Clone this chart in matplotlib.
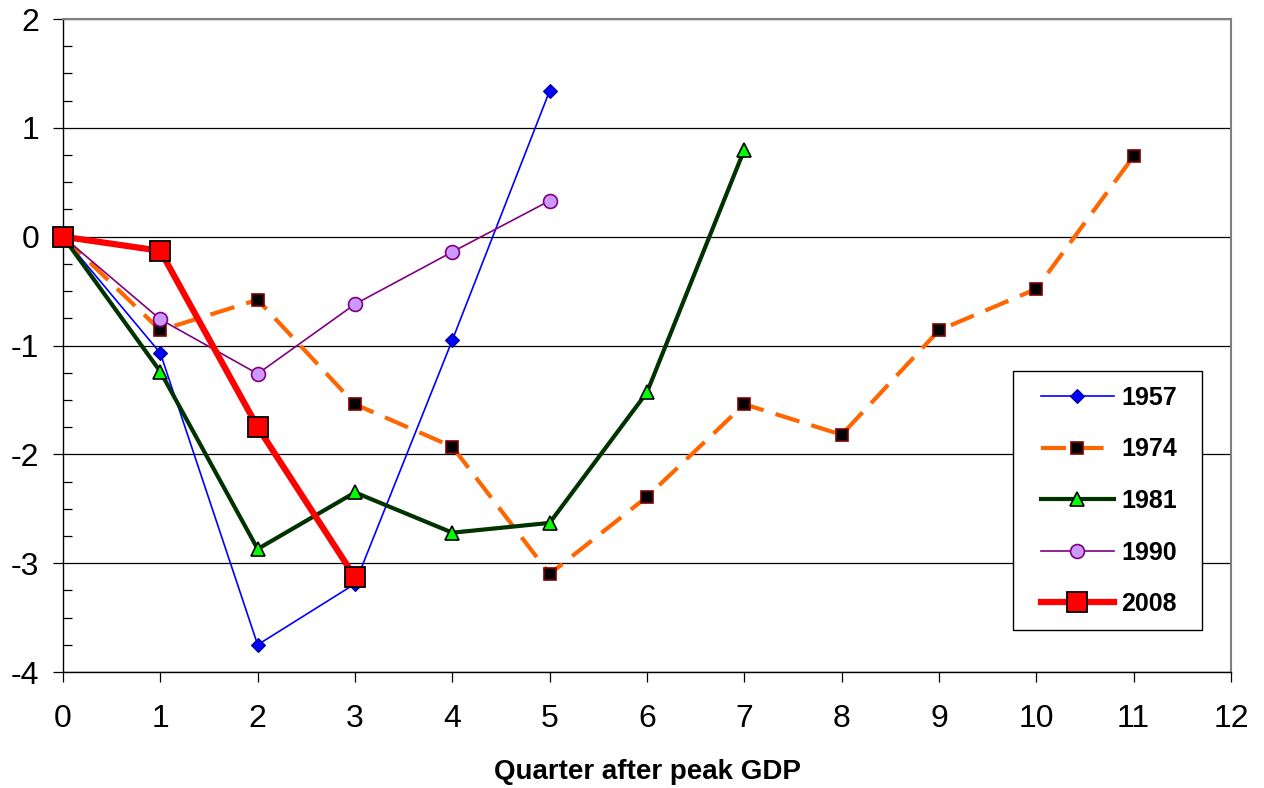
import numpy as np
import matplotlib.pyplot as plt
from matplotlib.patches import Rectangle
from matplotlib.ticker import MultipleLocator

plt.rcParams['font.family'] = ['Liberation Sans', 'DejaVu Sans']
plt.rcParams['axes.unicode_minus'] = False

# GDP change relative to the pre-recession peak, by quarter
q1957 = [0, 1, 2, 3, 4, 5]
v1957 = [0, -1.07, -3.75, -3.19, -0.95, 1.34]

q1974 = [0, 1, 2, 3, 4, 5, 6, 7, 8, 9, 10, 11]
v1974 = [0, -0.86, -0.58, -1.54, -1.93, -3.10, -2.39, -1.54, -1.82, -0.86, -0.48, 0.74]

q1981 = [0, 1, 2, 3, 4, 5, 6, 7]
v1981 = [0, -1.24, -2.87, -2.35, -2.72, -2.63, -1.43, 0.80]

q1990 = [0, 1, 2, 3, 4, 5]
v1990 = [0, -0.76, -1.26, -0.62, -0.14, 0.33]

q2008 = [0, 1, 2, 3]
v2008 = [0, -0.13, -1.75, -3.13]

W, H = 1264, 788
fig = plt.figure(figsize=(W / 100, H / 100), dpi=100)
ax = fig.add_axes([63 / W, 1 - 672 / H, (1231 - 63) / W, (672 - 19) / H])

ax.plot(q1957, v1957, color='#0000FF', lw=1.2, marker='D', ms=7,
        mfc='#0000FF', mec='#000080', mew=0.8, label='1957', zorder=3, clip_on=False)
ax.plot(q1974, v1974, color='#FF6600', lw=3, dashes=(6, 3), marker='s', ms=8.5,
        mfc='black', mec='#800000', mew=1.2, label='1974', zorder=3, clip_on=False)
ax.plot(q1981, v1981, color='#003300', lw=3, marker='^', ms=10,
        mfc='#00FF00', mec='black', mew=1.2, label='1981', zorder=3, clip_on=False)
ax.plot(q1990, v1990, color='#800080', lw=1.2, marker='o', ms=10,
        mfc='#CC99FF', mec='#800080', mew=1.2, label='1990', zorder=3, clip_on=False)
ax.plot(q2008, v2008, color='#FF0000', lw=4.5, marker='s', ms=15,
        mfc='#FF0000', mec='black', mew=1.3, label='2008', zorder=4, clip_on=False)

ax.set_xlim(0, 12)
ax.set_ylim(-4, 2)
ax.xaxis.set_major_locator(MultipleLocator(1))
ax.yaxis.set_major_locator(MultipleLocator(1))
ax.yaxis.set_minor_locator(MultipleLocator(0.25))

ax.yaxis.grid(True, which='major', color='black', lw=0.9)
ax.set_axisbelow(True)

ax.tick_params(axis='both', which='major', direction='out', length=7,
               width=0.9, labelsize=23, color='black')
ax.tick_params(axis='x', pad=16)
ax.tick_params(axis='y', pad=10)
ax.tick_params(axis='y', which='minor', direction='in', length=6.5, width=0.9)

for side in ['left', 'bottom']:
    ax.spines[side].set_color('black')
    ax.spines[side].set_linewidth(1.0)
for side in ['top', 'right']:
    ax.spines[side].set_color('#808080')
    ax.spines[side].set_linewidth(1.5)

ax.set_xlabel('Quarter after peak GDP', fontsize=20, fontweight='bold', labelpad=18)

# legend box drawn separately so the inner padding can differ per side
box = Rectangle((1013 / W, 1 - 630 / H), (1202 - 1013) / W, (630 - 371) / H,
                transform=fig.transFigure, facecolor='white', edgecolor='black',
                lw=1.0, zorder=5, clip_on=False)
ax.add_patch(box)
leg = ax.legend(loc='upper left', bbox_to_anchor=(1041 / W, 1 - 386 / H),
                bbox_transform=fig.transFigure, frameon=False, borderpad=0,
                labelspacing=1.10, handlelength=2.9, handletextpad=0.3,
                borderaxespad=0, prop={'size': 18, 'weight': 'bold'})
leg.set_zorder(6)

fig.savefig('out.png', dpi=100)
